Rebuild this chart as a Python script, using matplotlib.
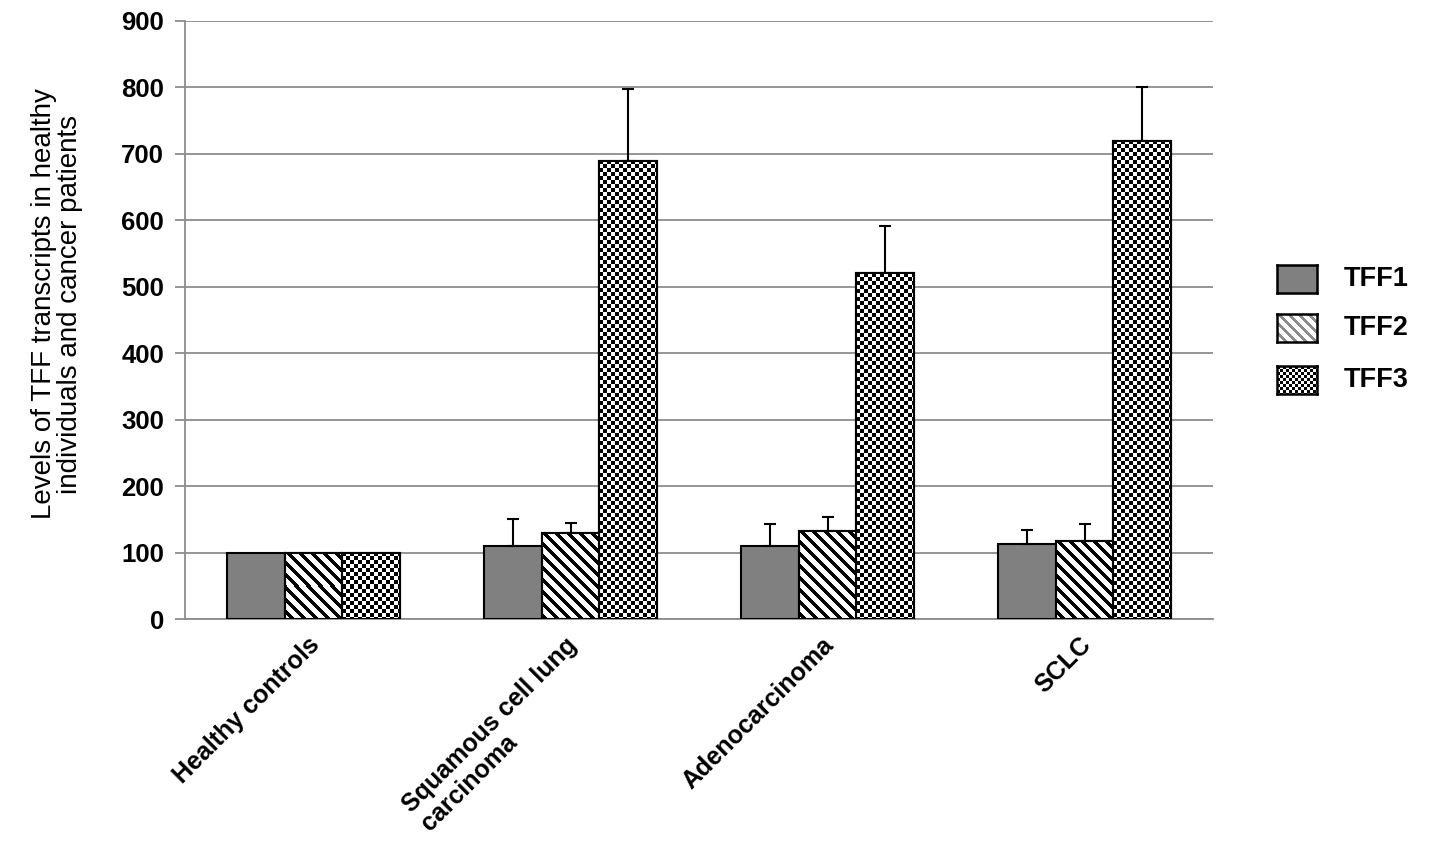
import numpy as np
import matplotlib
matplotlib.use("Agg")
import matplotlib.pyplot as plt
import matplotlib.transforms as mtransforms
from matplotlib.patches import Rectangle

plt.rcParams['font.family'] = ['Liberation Sans', 'DejaVu Sans']

categories = ["Healthy controls", "Squamous cell lung\ncarcinoma", "Adenocarcinoma", "SCLC"]
series = ["TFF1", "TFF2", "TFF3"]
tff1 = [100, 110, 110, 113]
tff2 = [100, 129, 132, 117]
tff3 = [100, 690, 520, 720]
err1 = [0, 41, 33, 21]
err2 = [0, 15, 21, 26]
err3 = [0, 108, 72, 80]
yticks = [0, 100, 200, 300, 400, 500, 600, 700, 800, 900]

DPI = 100
fig = plt.figure(figsize=(14.41, 8.55), dpi=DPI)
ax = fig.add_axes([185/1441, 1-619/855, (1213-185)/1441, (619-21)/855])
ax.set_xlim(-0.5, 3.5)
ax.set_ylim(0, 900)

grey = "#808080"
width = 0.225
x = np.arange(len(categories))


def stripes(h, w, period=12, thick=5):
    i, j = np.indices((h, w))
    return np.where(((j - i) % period) < thick, 0.0, 1.0)


def checker(h, w, cell=4):
    i, j = np.indices((h, w))
    return ((i // cell + j // cell) % 2).astype(float)


# pixels per data unit
ppx = ax.bbox.width / 4.0
ppy = ax.bbox.height / 900.0

def pattern_bars(xs, vals, maker):
    bars = ax.bar(xs, vals, width, facecolor="white", edgecolor="black", linewidth=1.5, zorder=2)
    for b in bars:
        x0, w, h = b.get_x(), b.get_width(), b.get_height()
        wp = max(int(round(w * ppx)), 1)
        hp = max(int(round(h * ppy)), 1)
        img = ax.imshow(maker(hp, wp), cmap="gray", vmin=0, vmax=1, interpolation="nearest",
                        extent=(x0, x0 + w, 0, h), aspect="auto", zorder=2.5)
        img.set_clip_path(b)
        edge = Rectangle((x0, 0), w, h, fill=False, edgecolor="black", linewidth=1.5, zorder=3)
        ax.add_patch(edge)
    return bars

ax.bar(x - width, tff1, width, color=grey, edgecolor="black", linewidth=1.5, zorder=3)
pattern_bars(x, tff2, stripes)
pattern_bars(x + width, tff3, checker)

for xs, vals, errs in [(x - width, tff1, err1), (x, tff2, err2), (x + width, tff3, err3)]:
    xe = [xx for xx, e in zip(xs, errs) if e > 0]
    ve = [v for v, e in zip(vals, errs) if e > 0]
    ee = [e for e in errs if e > 0]
    ax.errorbar(xe, ve, yerr=[np.zeros(len(ee)), ee], fmt="none", ecolor="black",
                elinewidth=1.5, capsize=4.5, capthick=1.5, zorder=4)

ax.set_xlim(-0.5, 3.5)
ax.set_ylim(0, 900)
ax.set_yticks(yticks)
ax.yaxis.grid(True, color="#8c8c8c", linewidth=1.3)
ax.set_axisbelow(True)
for s in ["top", "right"]:
    ax.spines[s].set_visible(False)
for s in ["left", "bottom"]:
    ax.spines[s].set_color("#8c8c8c")
    ax.spines[s].set_linewidth(1.3)
ax.tick_params(axis="y", color="#8c8c8c", length=7, width=1.3, labelsize=18.5, pad=8)
ax.tick_params(axis="x", length=0, pad=10)
for lab in ax.get_yticklabels():
    lab.set_fontweight("bold")

ax.set_xticks(x)
ax.set_xticklabels(categories, rotation=45, ha="right", va="top", rotation_mode="anchor",
                   fontsize=18, fontweight="bold", multialignment="left", linespacing=1.15)
shift = mtransforms.ScaledTranslation(-6/DPI, 0, fig.dpi_scale_trans)
for lab in ax.get_xticklabels():
    lab.set_transform(lab.get_transform() + shift)

fig.text(57/1441, 1-304/855, "Levels of TFF transcripts in healthy\nindividuals and cancer patients",
         rotation=90, ha="center", va="center", fontsize=20, linespacing=1.0)

# legend drawn by hand
leg_y = [279, 328, 380]
for k, (name, yc) in enumerate(zip(series, leg_y)):
    lax = fig.add_axes([1277/1441, 1-(yc+14)/855, 40/1441, 28/855])
    lax.set_xticks([])
    lax.set_yticks([])
    for sp in lax.spines.values():
        sp.set_linewidth(1.8)
        sp.set_color("black")
    if k == 0:
        lax.set_facecolor(grey)
    elif k == 1:
        lax.imshow(stripes(28, 40, period=10, thick=4) * 0.45 + 0.55, cmap="gray", vmin=0, vmax=1,
                   interpolation="nearest", aspect="auto")
    else:
        lax.imshow(checker(28, 40, cell=3), cmap="gray", vmin=0, vmax=1,
                   interpolation="nearest", aspect="auto")
    fig.text(1344/1441, 1-yc/855, name, ha="left", va="center", fontsize=19.5, fontweight="bold")

fig.savefig("out.png", dpi=DPI)
